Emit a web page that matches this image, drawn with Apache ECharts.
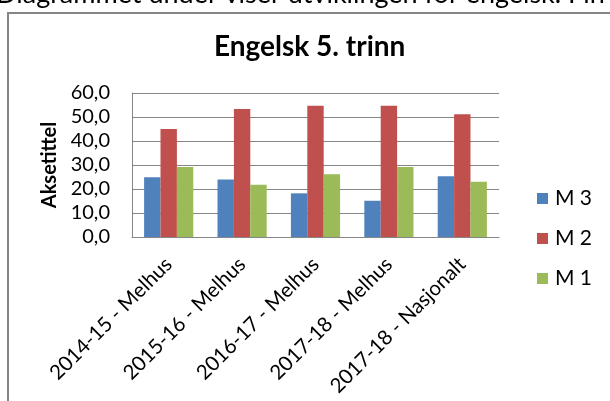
<!DOCTYPE html>
<html>
<head>
<meta charset="utf-8">
<script src="https://cdn.jsdelivr.net/npm/echarts@6/dist/echarts.min.js"></script>
<style>
  html, body { margin: 0; padding: 0; background: #fff; }
  #chart { width: 610px; height: 401px; }
</style>
</head>
<body>
<div id="chart"></div>
<script>
// data
const categories = ['2014-15 - Melhus', '2015-16 - Melhus', '2016-17 - Melhus', '2017-18 - Melhus', '2017-18 - Nasjonalt'];
const m3 = [24.9, 24.0, 18.2, 15.1, 25.3];
const m2 = [45.0, 53.3, 54.7, 54.7, 51.1];
const m1 = [29.2, 21.8, 26.1, 29.2, 23.0];
const yTicks = [0, 10, 20, 30, 40, 50, 60];

const chart = echarts.init(document.getElementById('chart'), null, { renderer: 'canvas' });

const font = 'Lato, "Liberation Sans", sans-serif';

const options = {
  animation: false,
  backgroundColor: '#fff',
  textStyle: { fontFamily: font, color: '#000' },
  // cut-off sentence above the chart and the chart frame
  graphic: [
    {
      type: 'text',
      left: -4,
      top: -19,
      style: {
        text: 'Diagrammet under viser utviklingen for engelsk. Fin',
        font: '27px ' + font,
        fill: '#000'
      }
    },
    {
      type: 'rect',
      shape: { x: 8, y: 13, width: 700, height: 500 },
      style: { fill: 'none', stroke: '#868686', lineWidth: 2 }
    }
  ],
  title: {
    text: 'Engelsk 5. trinn',
    left: 214,
    top: 33,
    padding: 0,
    textStyle: { fontFamily: font, fontSize: 28, fontWeight: 'bold', color: '#000' }
  },
  legend: {
    orient: 'vertical',
    left: 537,
    top: 188,
    padding: 0,
    itemWidth: 11,
    itemHeight: 11,
    itemGap: 19,
    icon: 'rect',
    data: ['M 3', 'M 2', 'M 1'],
    textStyle: { fontFamily: font, fontSize: 21, color: '#000', padding: [0, 0, 0, 2] }
  },
  grid: { left: 132, right: 111, top: 93, bottom: 164 },
  xAxis: {
    type: 'category',
    data: categories,
    axisLine: { lineStyle: { color: '#868686', width: 1 } },
    axisTick: { show: false },
    axisLabel: { interval: 0, rotate: 45, fontSize: 20.5, color: '#000', margin: 24, fontFamily: font }
  },
  yAxis: {
    type: 'value',
    min: 0,
    max: yTicks[yTicks.length - 1],
    interval: 10,
    name: 'Aksetittel',
    nameLocation: 'middle',
    nameGap: 67,
    nameTextStyle: { fontFamily: font, fontSize: 20, fontWeight: 'bold', color: '#000' },
    axisLine: { show: true, lineStyle: { color: '#868686', width: 1 } },
    axisTick: { show: false },
    splitLine: { lineStyle: { color: '#868686', width: 1 } },
    axisLabel: {
      fontSize: 20,
      color: '#000',
      margin: 22,
      fontFamily: font,
      formatter: (v) => v.toFixed(1).replace('.', ',')
    }
  },
  series: [
    { name: 'M 3', type: 'bar', data: m3, itemStyle: { color: '#4F81BD' }, barGap: '0%', barCategoryGap: '33%' },
    { name: 'M 2', type: 'bar', data: m2, itemStyle: { color: '#C0504D' } },
    { name: 'M 1', type: 'bar', data: m1, itemStyle: { color: '#9BBB59' } }
  ]
};

chart.setOption(options);
</script>
</body>
</html>
